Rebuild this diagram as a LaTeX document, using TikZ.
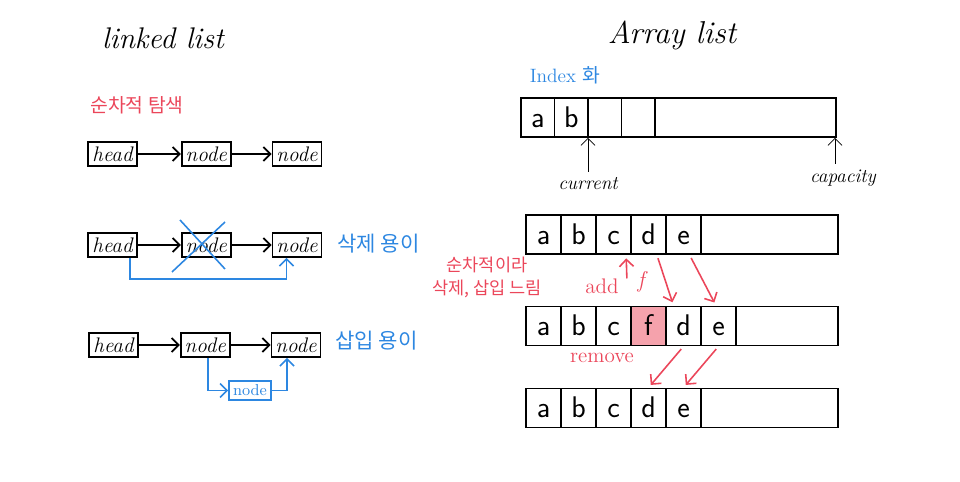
\documentclass[tikz,border=0pt]{standalone}
\usepackage{fontspec}
\newfontfamily\kr{Noto Sans CJK KR}
\usetikzlibrary{positioning,arrows.meta}
\definecolor{penred}{RGB}{235,70,90}
\definecolor{penblue}{RGB}{45,135,225}
\tikzset{
  lbox/.style={draw,line width=1pt,minimum width=0.98cm,minimum height=0.48cm,inner sep=0pt,font=\fontsize{12}{12}\selectfont\itshape},
  cell/.style={draw,line width=1pt,minimum width=0.7cm,minimum height=0.78cm,inner sep=0pt,text height=12pt,text depth=1pt,font=\sffamily\fontsize{17}{17}\selectfont},
  bar/.style={draw,line width=1pt,minimum width=6.24cm,minimum height=0.78cm,inner sep=0pt},
  redarr/.style={->,penred,line width=0.9pt,shorten <=2pt,shorten >=2pt},
  bluearr/.style={->,penblue,line width=0.9pt},
}
\begin{document}
\begin{tikzpicture}[x=0.02cm,y=-0.02cm,>={Straight Barb[length=4pt,width=8pt]}]
\useasboundingbox (0,0) rectangle (960,482);
% linked list
\node[font=\fontsize{17}{17}\selectfont\itshape] (lltitle) at (163,38) {linked list};
\node[penred,font=\kr\fontsize{11}{11}\selectfont] (seq) at (137,105) {순차적 탐색};
\node[lbox] (h1) at (112.5,154) {head};
\node[lbox,right=0.86cm of h1] (n11) {node};
\node[lbox,right=0.8cm of n11] (n12) {node};
\draw[line width=1pt,->] (h1) -- (n11);
\draw[line width=1pt,->] (n11) -- (n12);
\node[lbox] (h2) at (112.5,245) {head};
\node[lbox,right=0.86cm of h2] (n21) {node};
\node[lbox,right=0.8cm of n21] (n22) {node};
\draw[line width=1pt,->] (h2) -- (n21);
\draw[line width=1pt,->] (n21) -- (n22);
\draw[penblue,line width=0.9pt] (180,220) -- (225,269) (225,222) -- (172,272);
\draw[bluearr] ([xshift=0.35cm]h2.south) -- ++(0,21) -| ([xshift=-0.21cm]n22.south);
\node[penblue,font=\kr\fontsize{12}{12}\selectfont,anchor=west] (easydel) at (331,244) {삭제 용이};
\node[lbox] (h3) at (113.5,345) {head};
\node[lbox,right=0.82cm of h3] (n31) {node};
\node[lbox,right=0.8cm of n31] (n32) {node};
\draw[line width=1pt,->] (h3) -- (n31);
\draw[line width=1pt,->] (n31) -- (n32);
\node[draw,penblue,line width=0.9pt,minimum width=0.84cm,minimum height=0.38cm,inner sep=0pt,font=\fontsize{9}{9}\selectfont] (newn) at (250,390.5) {node};
\draw[bluearr] ([xshift=0.05cm]n31.south) |- (newn.west);
\draw[bluearr] (newn.east) -| ([xshift=-0.18cm]n32.south);
\node[penblue,font=\kr\fontsize{12}{12}\selectfont,anchor=west] (easyins) at (329,341) {삽입 용이};
% array list
\node[font=\fontsize{18}{18}\selectfont\itshape] (altitle) at (672,35) {Array list};
\node[penblue,font=\fontsize{11}{11}\selectfont] (idx) at (565,75) {Index {\kr 화}};
\node[bar,minimum width=6.3cm] (arr1) at (678.5,117.5) {};
\foreach \t [count=\i] in {a,b,{},{}}
  \node[cell,minimum width=0.67cm] (r1c\i) at (504.25+33.5*\i,117.5) {\t};
\node[font=\fontsize{11}{11}\selectfont\itshape] (cur) at (588,184) {current};
\draw[->] (cur.north) -- (cur.north |- r1c3.south);
\node[font=\fontsize{11}{11}\selectfont\itshape] (cap) at (843,178) {capacity};
\draw[->] ([xshift=-0.16cm]cap.north) -- ([xshift=-0.16cm]cap.north |- arr1.south);
\node[bar] (arr2) at (682,234.5) {};
\foreach \t [count=\i] in {a,b,c,d,e}
  \node[cell] (r2c\i) at (508.5+35*\i,234.5) {\t};
\node[penred,font=\kr\fontsize{10}{13}\selectfont,align=center] (slow) at (487,277) {순차적이라\\삭제, 삽입 느림};
\node[penred,font=\fontsize{12}{12}\selectfont] (addlbl) at (602,286) {add};
\node[penred,font=\fontsize{13}{13}\selectfont\itshape] (flbl) at (641,282) {f};
\coordinate (ins) at (627,282);
\draw[redarr] (ins) -- ([xshift=-0.08cm]r2c4.south west);
\fill[penred!50] (631,307) rectangle (666,345);
\node[bar] (arr3) at (682,326) {};
\foreach \t [count=\i] in {a,b,c,f,d,e}
  \node[cell] (r3c\i) at (508.5+35*\i,326) {\t};
\draw[redarr] ([xshift=-0.2cm]r2c4.south east) -- ([xshift=-0.2cm]r3c5.north);
\draw[redarr] ([xshift=0.12cm]r2c5.south) -- ([xshift=-0.05cm]r3c6.north);
\node[penred,font=\fontsize{12}{12}\selectfont] (rm) at (602,358) {remove};
\node[bar] (arr4) at (682,408) {};
\foreach \t [count=\i] in {a,b,c,d,e}
  \node[cell] (r4c\i) at (508.5+35*\i,408) {\t};
\draw[redarr] (r3c5.south) -- (r4c4.north);
\draw[redarr] (r3c6.south) -- (r4c5.north);
\end{tikzpicture}
\end{document}
